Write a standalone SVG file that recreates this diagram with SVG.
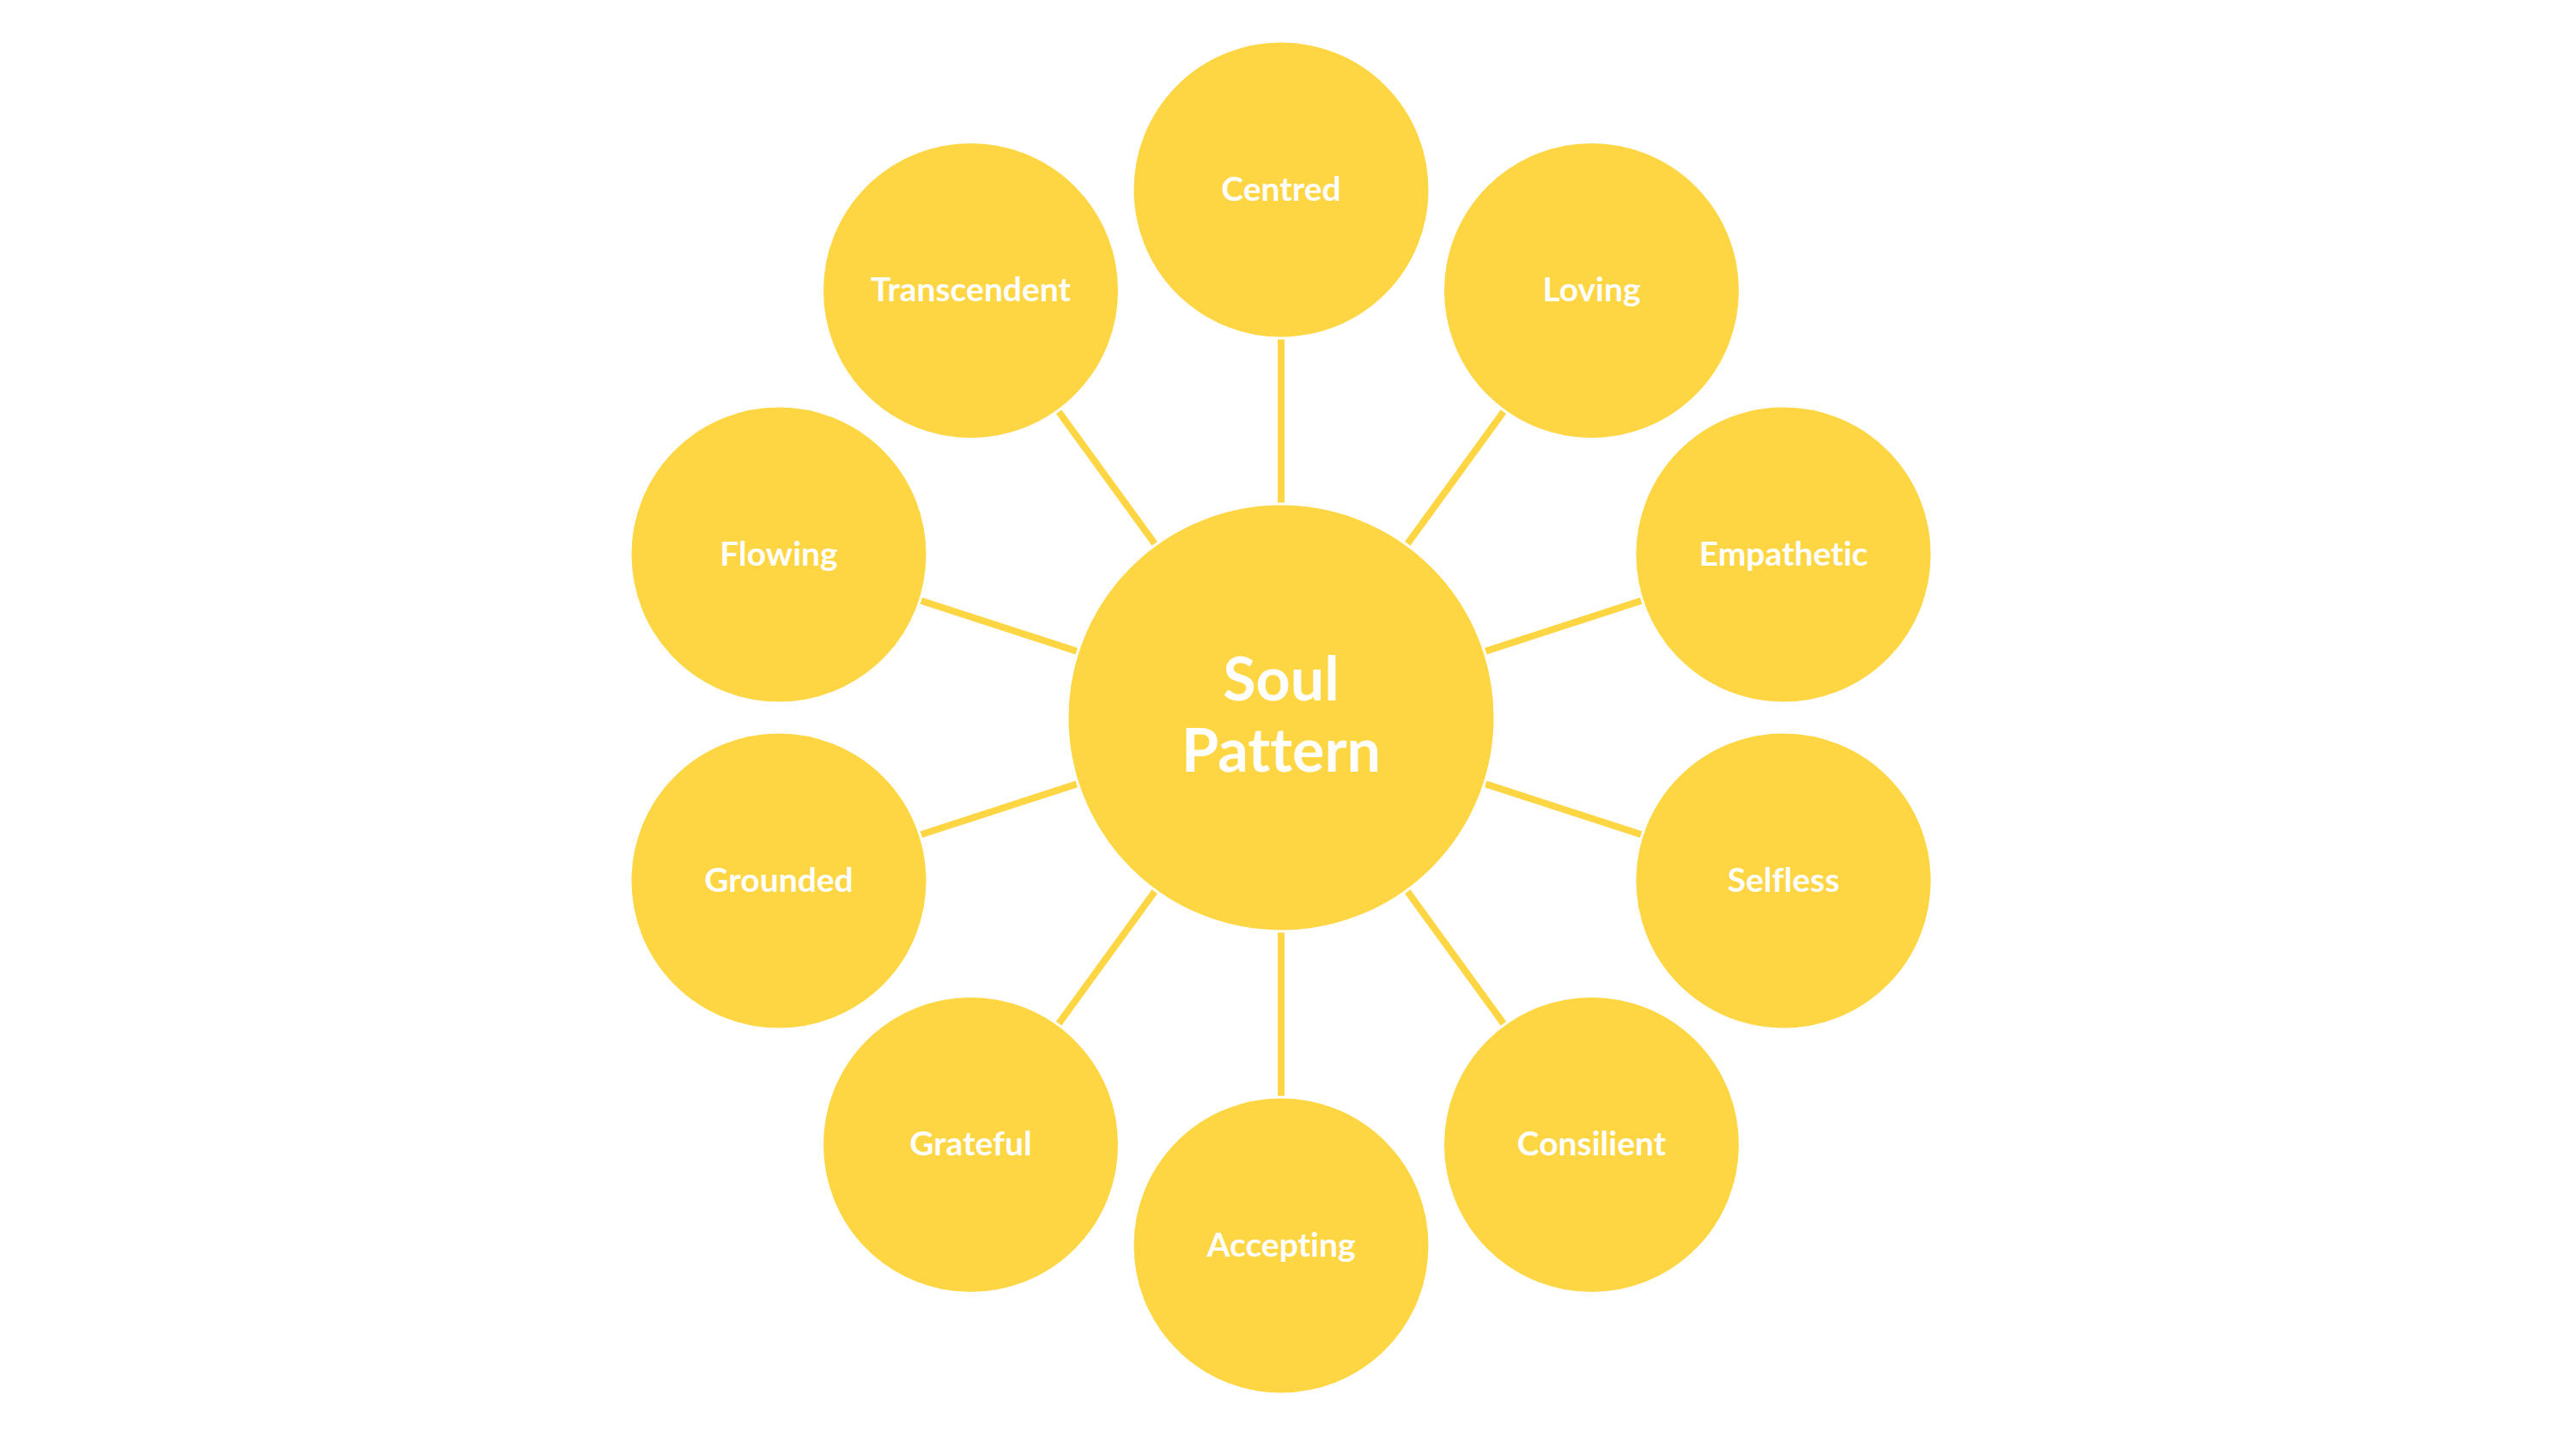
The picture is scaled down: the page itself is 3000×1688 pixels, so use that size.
<svg xmlns="http://www.w3.org/2000/svg" width="3000" height="1688" viewBox="0 0 3000 1688">
<style>
.n{fill:#FED543;stroke:#FFFFFF;stroke-width:3}
.c line{stroke:#FED543;stroke-width:8}
text{font-family:Lato,"Open Sans","Liberation Sans",sans-serif;font-weight:700;fill:#FFFFFF;text-anchor:middle;font-variant-ligatures:none;font-feature-settings:"liga" 0,"clig" 0,"dlig" 0}
.s{font-size:39px}
.m{font-size:70px}
</style>
<rect width="3000" height="1688" fill="#FFFFFF"/>
<g id="connectors" class="c">
<line x1="1492" y1="836" x2="1492" y2="221"/>
<line x1="1492" y1="836" x2="1853.5" y2="338.5"/>
<line x1="1492" y1="836" x2="2077" y2="646"/>
<line x1="1492" y1="836" x2="2077" y2="1026"/>
<line x1="1492" y1="836" x2="1853.5" y2="1333.5"/>
<line x1="1492" y1="836" x2="1492" y2="1451"/>
<line x1="1492" y1="836" x2="1130.5" y2="1333.5"/>
<line x1="1492" y1="836" x2="907" y2="1026"/>
<line x1="1492" y1="836" x2="907" y2="646"/>
<line x1="1492" y1="836" x2="1130.5" y2="338.5"/>
</g>
<g id="center"><circle class="n" cx="1492" cy="836" r="249"/><text class="m" x="1492" y="816">Soul</text><text class="m" x="1492" y="899">Pattern</text></g>
<g id="centred"><circle class="n" cx="1492" cy="221" r="173"/><text class="s" x="1492" y="234">Centred</text></g>
<g id="loving"><circle class="n" cx="1853.5" cy="338.5" r="173"/><text class="s" x="1853.5" y="351">Loving</text></g>
<g id="empathetic"><circle class="n" cx="2077" cy="646" r="173"/><text class="s" x="2077" y="659">Empathetic</text></g>
<g id="selfless"><circle class="n" cx="2077" cy="1026" r="173"/><text class="s" x="2077" y="1039">Selfless</text></g>
<g id="consilient"><circle class="n" cx="1853.5" cy="1333.5" r="173"/><text class="s" x="1853.5" y="1346">Consilient</text></g>
<g id="accepting"><circle class="n" cx="1492" cy="1451" r="173"/><text class="s" x="1492" y="1464">Accepting</text></g>
<g id="grateful"><circle class="n" cx="1130.5" cy="1333.5" r="173"/><text class="s" x="1130.5" y="1346">Grateful</text></g>
<g id="grounded"><circle class="n" cx="907" cy="1026" r="173"/><text class="s" x="907" y="1039">Grounded</text></g>
<g id="flowing"><circle class="n" cx="907" cy="646" r="173"/><text class="s" x="907" y="659">Flowing</text></g>
<g id="transcendent"><circle class="n" cx="1130.5" cy="338.5" r="173"/><text class="s" x="1130.5" y="351">Transcendent</text></g>
</svg>
